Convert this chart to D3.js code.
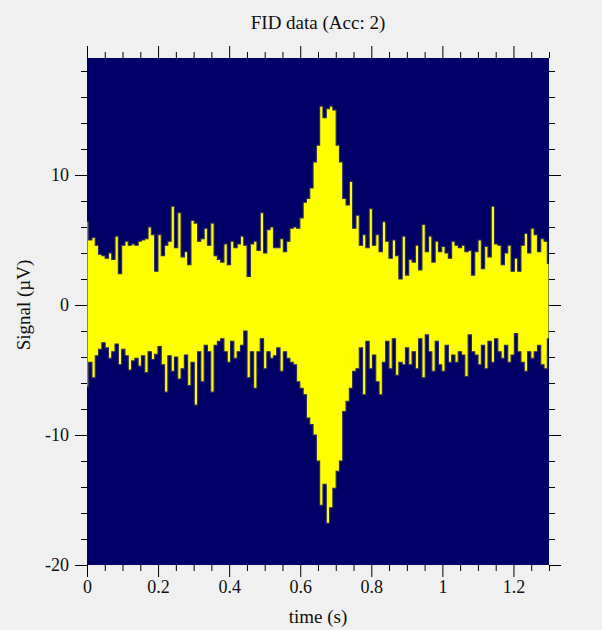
<!DOCTYPE html>
<html>
<head>
<meta charset="utf-8">
<script src="https://cdn.jsdelivr.net/npm/d3@7"></script>
<style>
  html, body { margin: 0; padding: 0; background: #f0f0f0; }
  svg { display: block; }
  text { font-family: "Liberation Serif", "Times New Roman", serif; fill: #111; }
</style>
</head>
<body>
<svg id="chart" width="602" height="630"></svg>
<script>
// FID acquisition: per-interval signal maxima and minima (µV), uniformly sampled over 1.3 s
const acqDuration = 1.3;
const signalHigh = [
  6.4, 5.0, 5.2, 4.6, 3.9, 3.8, 3.6, 4.0, 3.5, 5.3, 2.4, 4.6, 4.9, 4.6, 4.7, 4.6, 4.9, 5.0, 5.1, 6.0,
  5.4, 2.6, 5.4, 3.8, 4.6, 4.9, 7.6, 4.4, 7.1,
  3.7, 4.1, 3.1, 6.5, 6.3, 4.9, 5.1, 5.9, 4.6, 6.3, 3.8, 3.5, 3.3, 4.7, 3.1, 4.9, 4.4, 4.7, 5.3, 4.6,
  2.2, 4.7, 4.9, 4.2, 7.1, 4.0, 5.8, 6.0, 4.4,
  4.4, 5.1, 4.1, 4.9, 5.9, 6.0, 5.9, 6.7, 7.9, 8.2, 9.0, 11.0, 12.3, 15.3, 14.4, 15.1, 15.3, 15.0, 12.3, 11.0,
  8.2, 7.7, 9.5, 5.9, 6.9, 4.6, 5.4,
  4.4, 7.4, 4.6, 5.4, 4.1, 6.4, 4.9, 3.6, 5.0, 3.8, 2.0, 5.3, 2.3, 3.5, 3.3, 4.6, 2.7, 6.2, 4.1, 5.3,
  3.3, 4.9, 4.1, 4.5, 4.0, 3.6, 4.9, 4.6,
  4.4, 4.6, 4.1, 4.2, 2.3, 4.1, 5.0, 2.8, 4.5, 3.7, 7.6, 4.7, 4.6, 3.1, 4.0, 4.6, 2.6, 3.6, 2.6, 4.6,
  5.5, 4.0, 5.9, 5.4, 4.1, 5.1, 4.9, 3.2
];
const signalLow = [
  -6.3, -4.4, -5.6, -3.9, -3.4, -2.9, -3.3, -4.1, -3.6, -3.0, -4.6, -3.4, -3.9, -5.0, -4.3, -4.1, -4.7, -3.9, -5.2, -3.6,
  -4.2, -3.8, -3.2, -4.6, -6.7, -3.9, -5.1, -4.0, -5.7,
  -4.9, -3.85, -6.2, -4.4, -7.7, -3.6, -5.9, -3.1, -3.6, -6.7, -3.1, -2.8, -2.6, -3.6, -4.4, -2.8, -4.1, -3.6, -3.1, -2.0,
  -5.6, -3.6, -6.4, -3.6, -2.6, -4.9, -3.6, -4.1, -3.9,
  -3.3, -5.1, -3.6, -4.1, -4.4, -4.6, -5.9, -6.4, -6.9, -8.7, -9.2, -10.0, -12.0, -15.4, -13.8, -16.8, -15.6, -14.1, -12.8, -12.0,
  -8.2, -7.4, -6.4, -5.1, -4.9, -3.3, -6.9,
  -2.8, -4.9, -3.85, -5.9, -6.9, -4.4, -2.8, -4.9, -2.6, -5.4, -4.4, -4.6, -3.3, -4.6, -3.6, -4.9, -2.6, -5.6, -2.3, -3.6,
  -5.1, -2.8, -4.6, -5.1, -3.1, -4.4, -3.85, -4.4,
  -3.6, -3.85, -5.5, -2.3, -3.6, -3.85, -4.6, -3.1, -4.9, -2.8, -4.4, -2.6, -3.6, -4.1, -3.1, -4.4, -3.85, -2.2, -3.6, -4.4,
  -5.1, -3.6, -4.1, -3.6, -3.1, -4.6, -4.9, -2.6
];

// Axis ticks
const timeMajorTicks = [0, 0.2, 0.4, 0.6, 0.8, 1.0, 1.2];
const timeMinorTicks = [0.05, 0.1, 0.15, 0.25, 0.3, 0.35, 0.45, 0.5, 0.55, 0.65, 0.7, 0.75,
                        0.85, 0.9, 0.95, 1.05, 1.1, 1.15, 1.25, 1.3];
const signalMajorTicks = [-20, -10, 0, 10];
const signalMinorTicks = [-18, -16, -14, -12, -8, -6, -4, -2, 2, 4, 6, 8, 12, 14, 16, 18];

const svg = d3.select("#chart");
const plot = { left: 87, right: 549, top: 58, bottom: 565 };

const x = d3.scaleLinear().domain([0, acqDuration]).range([plot.left, plot.right]);
const y = d3.scaleLinear().domain([-20, 19]).range([plot.bottom, plot.top]);

const step = acqDuration / (signalHigh.length - 1);
const samples = signalHigh.map((hi, i) => ({ t: i * step, hi, lo: signalLow[i] }));

// plot background
svg.append("rect")
  .attr("x", plot.left).attr("y", plot.top)
  .attr("width", plot.right - plot.left).attr("height", plot.bottom - plot.top)
  .attr("fill", "#000066");

svg.append("clipPath").attr("id", "plotClip")
  .append("rect")
  .attr("x", plot.left).attr("y", plot.top)
  .attr("width", plot.right - plot.left).attr("height", plot.bottom - plot.top);

// signal trace envelope
const band = d3.area()
  .x(d => x(d.t))
  .y0(d => y(d.lo))
  .y1(d => y(d.hi))
  .curve(d3.curveStep);

svg.append("path")
  .datum(samples)
  .attr("clip-path", "url(#plotClip)")
  .attr("d", band)
  .attr("fill", "#ffff00")
  .attr("stroke", "#2c2c58")
  .attr("stroke-width", 1.1);

// axes
function styleAxis(g) {
  g.select(".domain").remove();
  g.selectAll("line").attr("stroke", "#000").attr("stroke-width", 1);
  g.selectAll("text").attr("font-size", 18).attr("fill", "#111");
}
const fmt = d => String(d);

svg.append("g").attr("transform", `translate(0,${plot.bottom})`)
  .call(d3.axisBottom(x).tickValues(timeMajorTicks).tickSize(12).tickPadding(3).tickFormat(fmt))
  .call(styleAxis);
svg.append("g").attr("transform", `translate(0,${plot.bottom})`)
  .call(d3.axisBottom(x).tickValues(timeMinorTicks).tickSize(6).tickFormat(""))
  .call(styleAxis);
svg.append("g").attr("transform", `translate(0,${plot.top})`)
  .call(d3.axisTop(x).tickValues(timeMajorTicks).tickSize(12).tickFormat(""))
  .call(styleAxis);
svg.append("g").attr("transform", `translate(0,${plot.top})`)
  .call(d3.axisTop(x).tickValues(timeMinorTicks).tickSize(6).tickFormat(""))
  .call(styleAxis);

svg.append("g").attr("transform", `translate(${plot.left},0)`)
  .call(d3.axisLeft(y).tickValues(signalMajorTicks).tickSize(12).tickPadding(6).tickFormat(fmt))
  .call(styleAxis);
svg.append("g").attr("transform", `translate(${plot.left},0)`)
  .call(d3.axisLeft(y).tickValues(signalMinorTicks).tickSize(6).tickFormat(""))
  .call(styleAxis);
svg.append("g").attr("transform", `translate(${plot.right},0)`)
  .call(d3.axisRight(y).tickValues(signalMajorTicks).tickSize(12).tickFormat(""))
  .call(styleAxis);
svg.append("g").attr("transform", `translate(${plot.right},0)`)
  .call(d3.axisRight(y).tickValues(signalMinorTicks).tickSize(6).tickFormat(""))
  .call(styleAxis);

// titles
svg.append("text")
  .attr("x", (plot.left + plot.right) / 2).attr("y", 29)
  .attr("text-anchor", "middle").attr("font-size", 19)
  .text("FID data (Acc: 2)");
svg.append("text")
  .attr("x", (plot.left + plot.right) / 2).attr("y", 623)
  .attr("text-anchor", "middle").attr("font-size", 19)
  .text("time (s)");
svg.append("text")
  .attr("transform", `translate(30,${y(0)}) rotate(-90)`)
  .attr("text-anchor", "middle").attr("font-size", 19)
  .text("Signal (µV)");
</script>
</body>
</html>
